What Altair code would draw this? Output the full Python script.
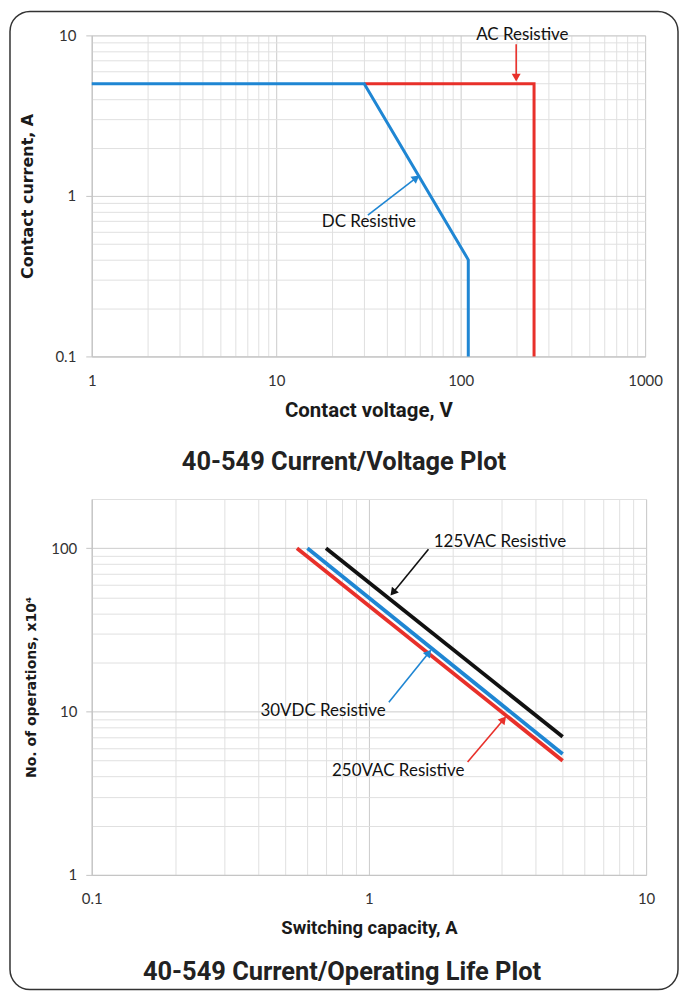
import math
import altair as alt
import pandas as pd

# ---------------- Plot 1: Current / Voltage ----------------
dc_voltage = [1, 30, 110, 110]
dc_current = [5, 5, 0.4, 0.1]
ac_voltage = [30, 250, 250]
ac_current = [5, 5, 0.1]

top_x_labels = [1, 10, 100, 1000]
top_y_labels = [0.1, 1, 10]

top_note_text = ["AC Resistive", "DC Resistive"]
top_note_x = [216, 31.8]
top_note_y = [10, 0.69]
top_tail_x = [200, 31.4]
top_tail_y = [8.8, 0.76]
top_head_x = [200, 56.7]
top_head_y = [5.56, 1.28]

# ---------------- Plot 2: Current / Operating life ----------------
life_names = ["250VAC Resistive", "30VDC Resistive", "125VAC Resistive"]
life_amp_start = [0.55, 0.6, 0.7]
life_amp_end = [5, 5, 5]
life_ops_start = [100, 100, 100]
life_ops_end = [5, 5.5, 7]

bot_x_labels = [0.1, 1, 10]
bot_y_labels = [1, 10, 100]

bot_note_x = [1.276, 0.683, 2.97]
bot_note_y = [4.33, 10.07, 109]
bot_tail_x = [2.27, 1.18, 1.64]
bot_tail_y = [4.91, 11.4, 98.6]
bot_head_x = [3.04, 1.633, 1.229]
bot_head_y = [8.82, 22.6, 54.2]

titles = ["40-549 Current/Voltage Plot", "40-549 Current/Operating Life Plot"]

RED = "#E8302A"
BLUE = "#1F86D3"
BLACK = "#111111"
life_colors = [RED, BLUE, BLACK]

GRID_MINOR = "#e0e0e0"
GRID_MAJOR = "#cccccc"
LABEL_FONT = "Lato"
TITLE_FONT = "Roboto"
YTITLE_FONT = "DejaVu Sans"


def log_grid(lo_exp, hi_exp, extra=()):
    vals = []
    for e in range(lo_exp, hi_exp):
        for m in range(1, 10):
            vals.append(round(m * 10 ** e, 6))
    vals.append(round(10 ** hi_exp, 6))
    vals.extend(extra)
    return vals


def log_axis(grid, labels, title, *, is_y, title_font, title_size, label_pad,
             title_pad):
    lab = "[" + ",".join(repr(v) for v in labels) + "]"
    test = f"indexof({lab}, datum.value) >= 0"
    kw = dict(
        values=grid,
        format="~g",
        labelExpr=f"{test} ? datum.label : ''",
        labelOverlap=False,
        labelFlush=False,
        labelFont=LABEL_FONT,
        labelFontSize=15,
        labelColor="#333333",
        labelPadding=label_pad,
        title=title,
        titleFont=title_font,
        titleFontSize=title_size,
        titleFontWeight="bold",
        titleColor="#1a1a1a",
        titlePadding=title_pad,
        grid=True,
        gridColor={"condition": {"test": test, "value": GRID_MAJOR}, "value": GRID_MINOR},
        gridWidth=1,
        domain=True,
        domainColor="#c4c4c4",
    )
    if is_y:
        kw.update(ticks=True, tickSize=6, tickColor="#c4c4c4",
                  tickOpacity={"condition": {"test": test, "value": 1}, "value": 0})
    else:
        kw.update(ticks=False, tickSize=0)
    return alt.Axis(**kw)


def arrow_angle(tx, ty, hx, hy, px_x, px_y):
    dx = math.log10(hx / tx) * px_x
    dy = math.log10(hy / ty) * px_y
    return (math.degrees(math.atan2(dx, dy)) + 360) % 360


def line_layer(xs, ys, color, x_enc, y_enc, width=3):
    df = pd.DataFrame({"x": xs, "y": ys, "idx": list(range(len(xs)))})
    return alt.Chart(df).mark_line(color=color, strokeWidth=width, clip=False).encode(
        x=x_enc, y=y_enc, order="idx:Q")


def arrow_layers(tx, ty, hx, hy, color, x_enc, y_enc, px_x, px_y):
    shaft = line_layer([tx, hx], [ty, hy], color, x_enc, y_enc, width=1.6)
    head_df = pd.DataFrame({"x": [hx], "y": [hy]})
    ang = arrow_angle(tx, ty, hx, hy, px_x, px_y)
    head = alt.Chart(head_df).mark_point(shape="triangle", filled=True, size=80,
                                         color=color, opacity=1, angle=ang).encode(
        x=x_enc, y=y_enc)
    return [shaft, head]


def text_layer(xs, ys, texts, x_enc, y_enc):
    df = pd.DataFrame({"x": xs, "y": ys, "t": texts})
    return alt.Chart(df).mark_text(font=LABEL_FONT, fontSize=17, color="#111111",
                                   align="center", baseline="middle").encode(
        x=x_enc, y=y_enc, text="t:N")


def title_layer(text, x_px, y_px):
    return alt.Chart(pd.DataFrame({"t": [text]})).mark_text(
        font=TITLE_FONT, fontSize=25.5, fontWeight="bold", color="#222222",
        align="center", baseline="middle").encode(
        x=alt.value(x_px), y=alt.value(y_px), text="t:N")


# ---------------- Top chart ----------------
TW, TH = 555, 322
tx_enc = alt.X("x:Q", scale=alt.Scale(type="log", domain=[1, 1000]),
               axis=log_axis(log_grid(0, 3), top_x_labels, "Contact voltage, V",
                             is_y=False, title_font=TITLE_FONT, title_size=20.5,
                             label_pad=17, title_pad=12))
ty_enc = alt.Y("y:Q", scale=alt.Scale(type="log", domain=[0.1, 10]),
               axis=log_axis(log_grid(-1, 1), top_y_labels, "Contact current, A",
                             is_y=True, title_font=YTITLE_FONT, title_size=16,
                             label_pad=10, title_pad=19))

# decorative rounded frame around the whole figure (kept inside the 672px page width)
frame = alt.Chart(pd.DataFrame({"k": [0]})).mark_rect(
    fill="transparent", stroke="#333333", strokeWidth=1.5, cornerRadius=20).encode(
    x=alt.value(-82), x2=alt.value(588), y=alt.value(-24), y2=alt.value(957))

top_layers = [frame,
              line_layer(ac_voltage, ac_current, RED, tx_enc, ty_enc),
              line_layer(dc_voltage, dc_current, BLUE, tx_enc, ty_enc)]
for i, col in enumerate([RED, BLUE]):
    top_layers += arrow_layers(top_tail_x[i], top_tail_y[i], top_head_x[i], top_head_y[i],
                               col, tx_enc, ty_enc, TW / 3, TH / 2)
top_layers.append(text_layer(top_note_x, top_note_y, top_note_text, tx_enc, ty_enc))
top_layers.append(title_layer(titles[0], 253, 428))

top = alt.layer(*top_layers).properties(width=TW, height=TH)

# ---------------- Bottom chart ----------------
BW, BH = 556, 377
bx_enc = alt.X("x:Q", scale=alt.Scale(type="log", domain=[0.1, 10]),
               axis=log_axis(log_grid(-1, 1), bot_x_labels, "Switching capacity, A",
                             is_y=False, title_font=TITLE_FONT, title_size=18.5,
                             label_pad=17, title_pad=12))
by_enc = alt.Y("y:Q", scale=alt.Scale(type="log", domain=[1, 200]),
               axis=log_axis(log_grid(0, 2, extra=(200,)), bot_y_labels,
                             "No. of operations, x10\u2074",
                             is_y=True, title_font=YTITLE_FONT, title_size=14,
                             label_pad=9, title_pad=12))

bot_layers = []
for i, col in enumerate(life_colors):
    bot_layers.append(line_layer([life_amp_start[i], life_amp_end[i]],
                                 [life_ops_start[i], life_ops_end[i]], col, bx_enc, by_enc,
                                 width=3.8))
for i, col in enumerate(life_colors):
    bot_layers += arrow_layers(bot_tail_x[i], bot_tail_y[i], bot_head_x[i], bot_head_y[i],
                               col, bx_enc, by_enc, BW / 2, BH / math.log10(200))
bot_layers.append(text_layer(bot_note_x, bot_note_y, life_names, bx_enc, by_enc))
bot_layers.append(title_layer(titles[1], 251, 474))

bottom = alt.layer(*bot_layers).properties(width=BW, height=BH)

chart = alt.vconcat(top, bottom, spacing=143, bounds="flush").properties(
    padding={"left": 0, "top": 0, "right": 0, "bottom": 0}
).configure_view(stroke=None).configure(background="white")

chart.save("out.html", embed_options={"renderer": "svg", "actions": False})
